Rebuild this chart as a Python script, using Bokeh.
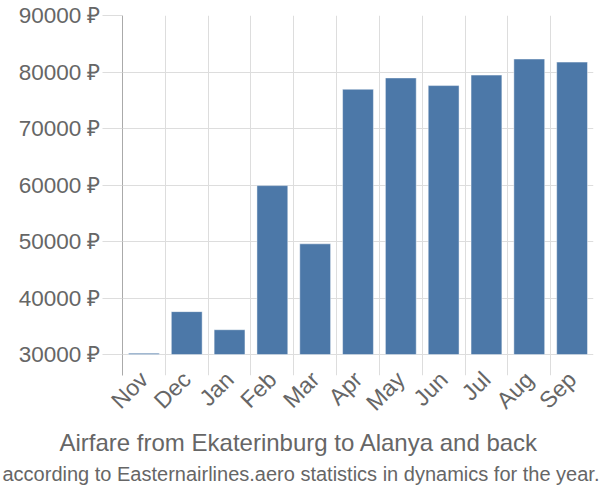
import math
from bokeh.plotting import figure
from bokeh.models import Range1d, FixedTicker, Grid, Title, FactorRange
from bokeh.embed import file_html
from bokeh.resources import INLINE

months = ["Nov", "Dec", "Jan", "Feb", "Mar", "Apr", "May", "Jun", "Jul", "Aug", "Sep"]
prices = [30250, 37600, 34400, 59900, 49600, 76950, 78950, 77600, 79450, 82300, 81750]
y_ticks = [30000, 40000, 50000, 60000, 70000, 80000, 90000]
base_value = 30000

FONT = "Liberation Sans"
GREY = "#666666"

p = figure(
    width=600, height=500,
    x_range=FactorRange(*months, range_padding=0),
    y_range=Range1d(26300, 90000),
    output_backend="svg", toolbar_location=None,
    min_border_left=122, min_border_right=7, min_border_top=15, min_border_bottom=125,
    outline_line_color=None,
)

p.vbar(x=months, top=prices, bottom=base_value, width=0.72,
       fill_color="#4c78a8", line_color="#ffffff", line_alpha=0.45, line_width=1)

# axes
p.yaxis.ticker = FixedTicker(ticks=y_ticks)
p.yaxis.major_label_overrides = {t: f"{t} \u20bd" for t in y_ticks}
p.yaxis.major_label_text_font = FONT
p.yaxis.major_label_text_font_size = "22.5px"
p.yaxis.major_label_text_color = GREY
p.yaxis.axis_line_color = "#aaaaaa"
p.yaxis.axis_line_width = 1
p.yaxis.major_tick_out = 20
p.yaxis.major_tick_in = 0
p.yaxis.major_tick_line_color = "#dddddd"
p.yaxis.minor_tick_line_color = None
p.yaxis.major_label_standoff = 2

p.xaxis.axis_line_color = None
p.xaxis.major_tick_line_color = None
p.xaxis.minor_tick_line_color = None
p.xaxis.major_label_orientation = math.pi / 4
p.xaxis.major_label_text_font = FONT
p.xaxis.major_label_text_font_size = "23px"
p.xaxis.major_label_text_color = GREY
p.xaxis.major_label_standoff = -6

# grids
p.xgrid.grid_line_color = None
p.ygrid.ticker = FixedTicker(ticks=y_ticks)
p.ygrid.grid_line_color = "#dddddd"
vgrid = Grid(dimension=0, ticker=FixedTicker(ticks=list(range(len(months) + 1))),
             grid_line_color="#dddddd")
p.add_layout(vgrid)

# titles
t1 = Title(text="Airfare from Ekaterinburg to Alanya and back", align="left", offset=-63,
           text_font=FONT, text_font_size="24px", text_color=GREY,
           text_font_style="normal", standoff=-2)
t2 = Title(text="according to Easternairlines.aero statistics in dynamics for the year.",
           align="left", offset=-120, text_font=FONT, text_font_size="20px",
           text_color=GREY, text_font_style="normal", standoff=12)
p.add_layout(t1, "below")
p.add_layout(t2, "below")

open("out.html", "w").write(file_html(p, INLINE))
